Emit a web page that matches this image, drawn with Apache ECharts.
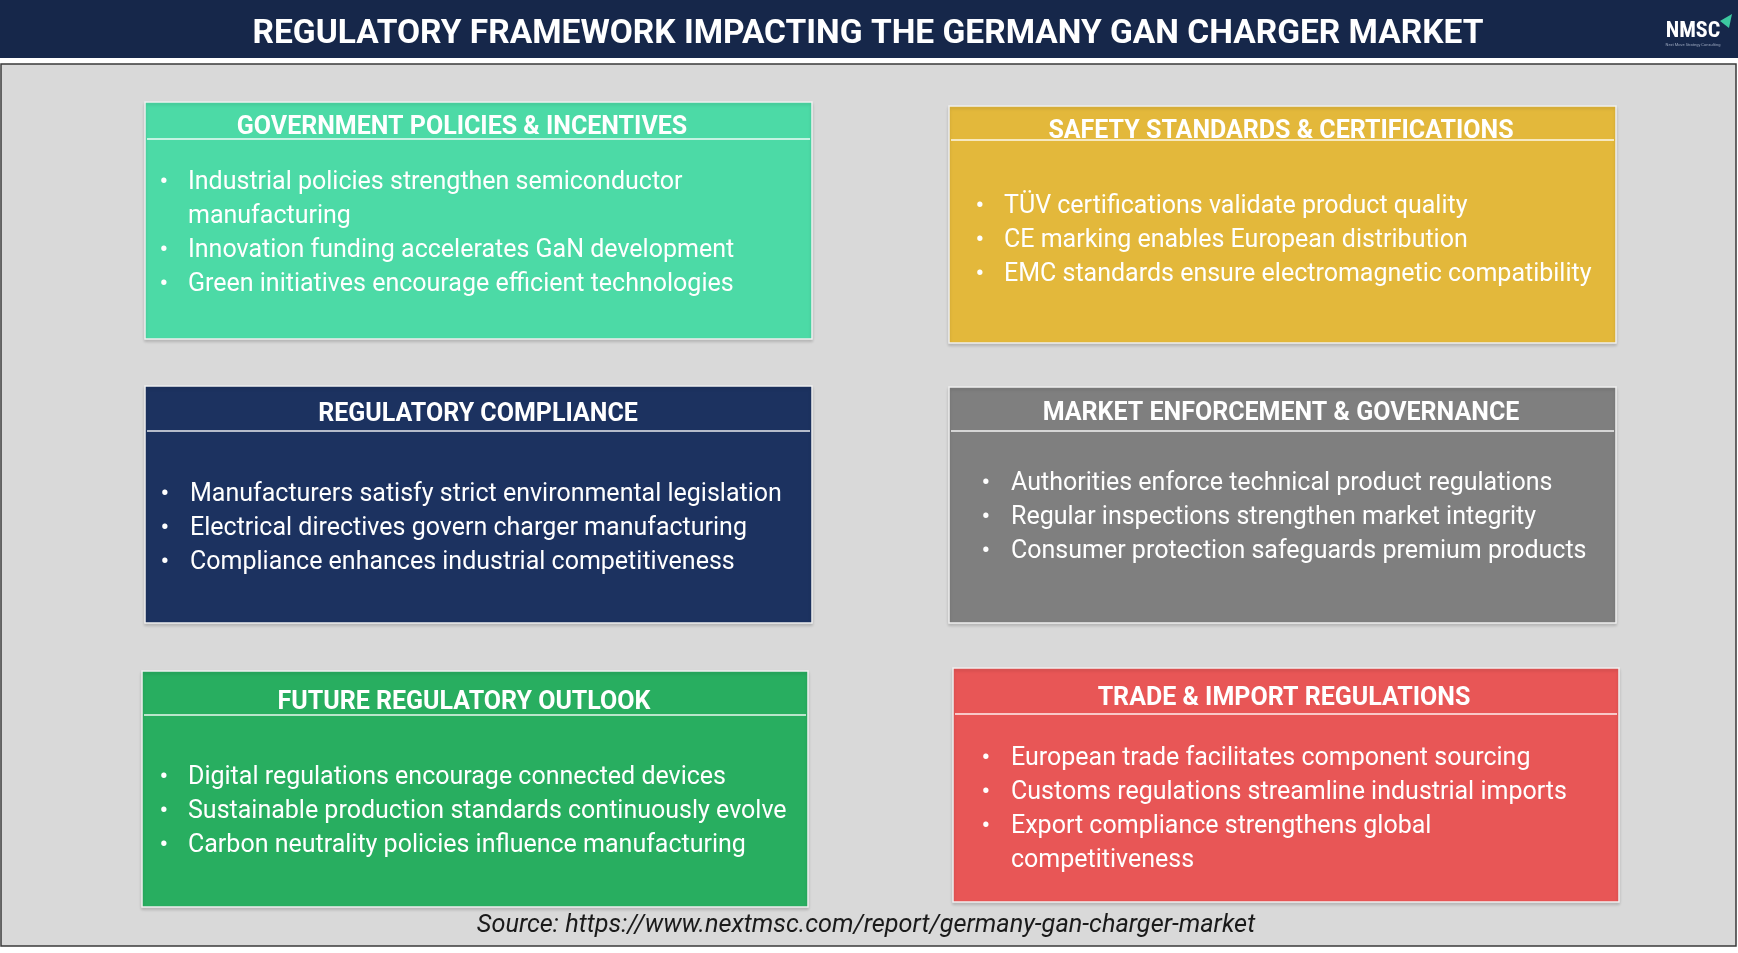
<!DOCTYPE html>
<html>
<head>
<meta charset="utf-8">
<title>Regulatory Framework Impacting the Germany GaN Charger Market</title>
<script src="https://cdn.jsdelivr.net/npm/echarts@6/dist/echarts.min.js"></script>
<style>
  html, body { margin: 0; padding: 0; background: #ffffff; }
  #main { width: 1738px; height: 953px; }
</style>
</head>
<body>
<div id="main"></div>
<script>
// chart texts
var chartTitle = 'REGULATORY FRAMEWORK IMPACTING THE GERMANY GAN CHARGER MARKET';
var sourceText = 'Source: https://www.nextmsc.com/report/germany-gan-charger-market';

var boxTitles = [
    'GOVERNMENT POLICIES & INCENTIVES',
    'SAFETY STANDARDS & CERTIFICATIONS',
    'REGULATORY COMPLIANCE',
    'MARKET ENFORCEMENT & GOVERNANCE',
    'FUTURE REGULATORY OUTLOOK',
    'TRADE & IMPORT REGULATIONS'
];

var govBullets = [
    'Industrial policies strengthen semiconductor\nmanufacturing',
    'Innovation funding accelerates GaN development',
    'Green initiatives encourage efficient technologies'
];
var safetyBullets = [
    'TÜV certifications validate product quality',
    'CE marking enables European distribution',
    'EMC standards ensure electromagnetic compatibility'
];
var complianceBullets = [
    'Manufacturers satisfy strict environmental legislation',
    'Electrical directives govern charger manufacturing',
    'Compliance enhances industrial competitiveness'
];
var enforcementBullets = [
    'Authorities enforce technical product regulations',
    'Regular inspections strengthen market integrity',
    'Consumer protection safeguards premium products'
];
var outlookBullets = [
    'Digital regulations encourage connected devices',
    'Sustainable production standards continuously evolve',
    'Carbon neutrality policies influence manufacturing'
];
var tradeBullets = [
    'European trade facilitates component sourcing',
    'Customs regulations streamline industrial imports',
    'Export compliance strengthens global\ncompetitiveness'
];
var boxBullets = [govBullets, safetyBullets, complianceBullets, enforcementBullets, outlookBullets, tradeBullets];

// 盒子的位置和颜色
var boxLayout = [
    {x: 145, y: 102, w: 667, h: 237, line: 139, titleX: 462, titleY: 128, textX: 188, bulletX: 164, firstY: 183, color: '#4cdaa6'},
    {x: 949, y: 106, w: 667, h: 237, line: 140, titleX: 1281, titleY: 132, textX: 1004, bulletX: 980, firstY: 207, color: '#e3b83b'},
    {x: 145, y: 386, w: 667, h: 237, line: 431, titleX: 478, titleY: 415, textX: 190, bulletX: 165, firstY: 495, color: '#1c3260'},
    {x: 949, y: 387, w: 667, h: 236, line: 431, titleX: 1281, titleY: 414, textX: 1011, bulletX: 986, firstY: 484, color: '#7f7f7f'},
    {x: 142, y: 671, w: 666, h: 236, line: 715, titleX: 464, titleY: 703, textX: 188, bulletX: 164, firstY: 778, color: '#28ae60'},
    {x: 953, y: 668, w: 666, h: 234, line: 714, titleX: 1284, titleY: 699, textX: 1011, bulletX: 986, firstY: 759, color: '#e85656'}
];
var lineGap = 34;

var myChart = echarts.init(document.getElementById('main'), null, {renderer: 'canvas'});

var elements = [];
// 背景
elements.push({type: 'rect', shape: {x: 0, y: 0, width: 1738, height: 953}, style: {fill: '#ffffff'}, silent: true});
elements.push({type: 'rect', shape: {x: 1, y: 64, width: 1735, height: 882}, style: {fill: '#d9d9d9', stroke: '#3a3a3a', lineWidth: 1.5}, silent: true});
// 标题栏
elements.push({type: 'rect', shape: {x: 0, y: 0, width: 1738, height: 58}, style: {fill: '#16274a'}, silent: true});
elements.push({
    type: 'text',
    style: {text: chartTitle, x: 868, y: 35, align: 'center', verticalAlign: 'middle',
        fill: '#ffffff', font: 'bold 33.5px Roboto, "Liberation Sans", Arial, sans-serif'}
});
// logo
elements.push({
    type: 'text',
    style: {text: 'NMSC', x: 1693, y: 31, align: 'center', verticalAlign: 'middle',
        fill: '#ffffff', font: 'bold 22px "Roboto Condensed", Roboto, sans-serif'}
});
elements.push({
    type: 'text',
    style: {text: 'Next Move Strategy Consulting', x: 1693, y: 45, align: 'center', verticalAlign: 'middle',
        fill: '#9aa6bd', font: '4px Roboto, sans-serif'}
});
elements.push({type: 'polygon', shape: {points: [[1720, 21], [1732, 14], [1729, 28]]}, style: {fill: '#3cc8a0'}, silent: true});

// 六个盒子
for (var i = 0; i < boxLayout.length; i++) {
    var b = boxLayout[i];
    elements.push({
        type: 'rect',
        shape: {x: b.x, y: b.y, width: b.w, height: b.h},
        style: {fill: b.color, stroke: '#f0f0f0', lineWidth: 1.5,
            shadowBlur: 3, shadowColor: 'rgba(0,0,0,0.15)', shadowOffsetY: 2},
        silent: true
    });
    elements.push({
        type: 'line',
        shape: {x1: b.x + 2, y1: b.line, x2: b.x + b.w - 2, y2: b.line},
        style: {stroke: '#ffffff', lineWidth: 1.5, opacity: 0.9},
        silent: true
    });
    elements.push({
        type: 'text',
        style: {text: boxTitles[i], x: b.titleX, y: b.titleY, align: 'center', verticalAlign: 'middle',
            fill: '#ffffff', font: 'bold 25px Roboto, sans-serif'}
    });
    var row = 0;
    var items = boxBullets[i];
    for (var j = 0; j < items.length; j++) {
        var lines = items[j].split('\n');
        elements.push({
            type: 'text',
            style: {text: '•', x: b.bulletX, y: b.firstY + row * lineGap, align: 'center', verticalAlign: 'middle',
                fill: '#ffffff', font: '26px Roboto, sans-serif'}
        });
        for (var k = 0; k < lines.length; k++) {
            elements.push({
                type: 'text',
                style: {text: lines[k], x: b.textX, y: b.firstY + row * lineGap, align: 'left', verticalAlign: 'middle',
                    fill: '#ffffff', font: '25px Roboto, sans-serif'}
            });
            row++;
        }
    }
}

// 来源
elements.push({
    type: 'text',
    style: {text: sourceText, x: 866, y: 926, align: 'center', verticalAlign: 'middle',
        fill: '#1a1a1a', font: 'italic 25.3px Roboto, "Liberation Sans", sans-serif'}
});

var option = {
    backgroundColor: '#ffffff',
    animation: false,
    graphic: {elements: elements}
};
myChart.setOption(option);
</script>
</body>
</html>
